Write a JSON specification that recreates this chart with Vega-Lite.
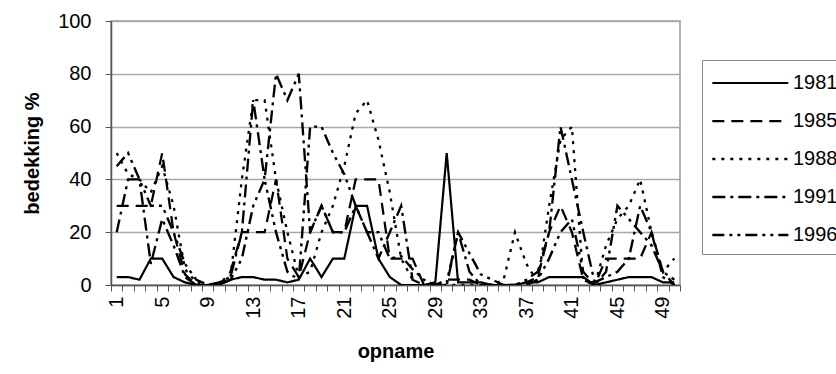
{
  "$schema": "https://vega.github.io/schema/vega-lite/v6.json",
  "width": 569,
  "height": 264,
  "autosize": {"type": "none"},
  "padding": {"left": 111, "top": 21, "right": 156, "bottom": 89},
  "background": "white",
  "config": {
    "font": "Liberation Sans",
    "view": {"stroke": "#9a9a9a", "strokeWidth": 1.5}
  },
  "data": {
    "values": [
      {"opname":1,"jaar":"1981","bedekking":3},{"opname":1,"jaar":"1985","bedekking":30},{"opname":1,"jaar":"1988","bedekking":50},{"opname":1,"jaar":"1991","bedekking":20},{"opname":1,"jaar":"1996","bedekking":45},
      {"opname":2,"jaar":"1981","bedekking":3},{"opname":2,"jaar":"1985","bedekking":30},{"opname":2,"jaar":"1988","bedekking":42},{"opname":2,"jaar":"1991","bedekking":40},{"opname":2,"jaar":"1996","bedekking":50},
      {"opname":3,"jaar":"1981","bedekking":2},{"opname":3,"jaar":"1985","bedekking":30},{"opname":3,"jaar":"1988","bedekking":40},{"opname":3,"jaar":"1991","bedekking":40},{"opname":3,"jaar":"1996","bedekking":40},
      {"opname":4,"jaar":"1981","bedekking":10},{"opname":4,"jaar":"1985","bedekking":30},{"opname":4,"jaar":"1988","bedekking":35},{"opname":4,"jaar":"1991","bedekking":8},{"opname":4,"jaar":"1996","bedekking":30},
      {"opname":5,"jaar":"1981","bedekking":10},{"opname":5,"jaar":"1985","bedekking":50},{"opname":5,"jaar":"1988","bedekking":45},{"opname":5,"jaar":"1991","bedekking":25},{"opname":5,"jaar":"1996","bedekking":30},
      {"opname":6,"jaar":"1981","bedekking":3},{"opname":6,"jaar":"1985","bedekking":20},{"opname":6,"jaar":"1988","bedekking":30},{"opname":6,"jaar":"1991","bedekking":15},{"opname":6,"jaar":"1996","bedekking":20},
      {"opname":7,"jaar":"1981","bedekking":1},{"opname":7,"jaar":"1985","bedekking":4},{"opname":7,"jaar":"1988","bedekking":6},{"opname":7,"jaar":"1991","bedekking":3},{"opname":7,"jaar":"1996","bedekking":8},
      {"opname":8,"jaar":"1981","bedekking":0},{"opname":8,"jaar":"1985","bedekking":0},{"opname":8,"jaar":"1988","bedekking":1},{"opname":8,"jaar":"1991","bedekking":0},{"opname":8,"jaar":"1996","bedekking":2},
      {"opname":9,"jaar":"1981","bedekking":0},{"opname":9,"jaar":"1985","bedekking":0},{"opname":9,"jaar":"1988","bedekking":0},{"opname":9,"jaar":"1991","bedekking":0},{"opname":9,"jaar":"1996","bedekking":0},
      {"opname":10,"jaar":"1981","bedekking":0},{"opname":10,"jaar":"1985","bedekking":0},{"opname":10,"jaar":"1988","bedekking":0},{"opname":10,"jaar":"1991","bedekking":1},{"opname":10,"jaar":"1996","bedekking":0},
      {"opname":11,"jaar":"1981","bedekking":2},{"opname":11,"jaar":"1985","bedekking":5},{"opname":11,"jaar":"1988","bedekking":3},{"opname":11,"jaar":"1991","bedekking":3},{"opname":11,"jaar":"1996","bedekking":2},
      {"opname":12,"jaar":"1981","bedekking":3},{"opname":12,"jaar":"1985","bedekking":20},{"opname":12,"jaar":"1988","bedekking":40},{"opname":12,"jaar":"1991","bedekking":20},{"opname":12,"jaar":"1996","bedekking":10},
      {"opname":13,"jaar":"1981","bedekking":3},{"opname":13,"jaar":"1985","bedekking":20},{"opname":13,"jaar":"1988","bedekking":70},{"opname":13,"jaar":"1991","bedekking":70},{"opname":13,"jaar":"1996","bedekking":30},
      {"opname":14,"jaar":"1981","bedekking":2},{"opname":14,"jaar":"1985","bedekking":20},{"opname":14,"jaar":"1988","bedekking":70},{"opname":14,"jaar":"1991","bedekking":40},{"opname":14,"jaar":"1996","bedekking":40},
      {"opname":15,"jaar":"1981","bedekking":2},{"opname":15,"jaar":"1985","bedekking":40},{"opname":15,"jaar":"1988","bedekking":40},{"opname":15,"jaar":"1991","bedekking":80},{"opname":15,"jaar":"1996","bedekking":20},
      {"opname":16,"jaar":"1981","bedekking":1},{"opname":16,"jaar":"1985","bedekking":10},{"opname":16,"jaar":"1988","bedekking":20},{"opname":16,"jaar":"1991","bedekking":70},{"opname":16,"jaar":"1996","bedekking":5},
      {"opname":17,"jaar":"1981","bedekking":2},{"opname":17,"jaar":"1985","bedekking":3},{"opname":17,"jaar":"1988","bedekking":3},{"opname":17,"jaar":"1991","bedekking":80},{"opname":17,"jaar":"1996","bedekking":2},
      {"opname":18,"jaar":"1981","bedekking":10},{"opname":18,"jaar":"1985","bedekking":20},{"opname":18,"jaar":"1988","bedekking":5},{"opname":18,"jaar":"1991","bedekking":20},{"opname":18,"jaar":"1996","bedekking":60},
      {"opname":19,"jaar":"1981","bedekking":3},{"opname":19,"jaar":"1985","bedekking":30},{"opname":19,"jaar":"1988","bedekking":20},{"opname":19,"jaar":"1991","bedekking":30},{"opname":19,"jaar":"1996","bedekking":60},
      {"opname":20,"jaar":"1981","bedekking":10},{"opname":20,"jaar":"1985","bedekking":20},{"opname":20,"jaar":"1988","bedekking":30},{"opname":20,"jaar":"1991","bedekking":20},{"opname":20,"jaar":"1996","bedekking":50},
      {"opname":21,"jaar":"1981","bedekking":10},{"opname":21,"jaar":"1985","bedekking":20},{"opname":21,"jaar":"1988","bedekking":45},{"opname":21,"jaar":"1991","bedekking":20},{"opname":21,"jaar":"1996","bedekking":42},
      {"opname":22,"jaar":"1981","bedekking":30},{"opname":22,"jaar":"1985","bedekking":40},{"opname":22,"jaar":"1988","bedekking":65},{"opname":22,"jaar":"1991","bedekking":30},{"opname":22,"jaar":"1996","bedekking":30},
      {"opname":23,"jaar":"1981","bedekking":30},{"opname":23,"jaar":"1985","bedekking":40},{"opname":23,"jaar":"1988","bedekking":70},{"opname":23,"jaar":"1991","bedekking":20},{"opname":23,"jaar":"1996","bedekking":20},
      {"opname":24,"jaar":"1981","bedekking":10},{"opname":24,"jaar":"1985","bedekking":40},{"opname":24,"jaar":"1988","bedekking":55},{"opname":24,"jaar":"1991","bedekking":10},{"opname":24,"jaar":"1996","bedekking":20},
      {"opname":25,"jaar":"1981","bedekking":3},{"opname":25,"jaar":"1985","bedekking":10},{"opname":25,"jaar":"1988","bedekking":35},{"opname":25,"jaar":"1991","bedekking":20},{"opname":25,"jaar":"1996","bedekking":10},
      {"opname":26,"jaar":"1981","bedekking":0},{"opname":26,"jaar":"1985","bedekking":10},{"opname":26,"jaar":"1988","bedekking":10},{"opname":26,"jaar":"1991","bedekking":30},{"opname":26,"jaar":"1996","bedekking":11},
      {"opname":27,"jaar":"1981","bedekking":0},{"opname":27,"jaar":"1985","bedekking":10},{"opname":27,"jaar":"1988","bedekking":2},{"opname":27,"jaar":"1991","bedekking":2},{"opname":27,"jaar":"1996","bedekking":6},
      {"opname":28,"jaar":"1981","bedekking":0},{"opname":28,"jaar":"1985","bedekking":0},{"opname":28,"jaar":"1988","bedekking":0},{"opname":28,"jaar":"1991","bedekking":0},{"opname":28,"jaar":"1996","bedekking":2},
      {"opname":29,"jaar":"1981","bedekking":1},{"opname":29,"jaar":"1985","bedekking":0},{"opname":29,"jaar":"1988","bedekking":0},{"opname":29,"jaar":"1991","bedekking":0},{"opname":29,"jaar":"1996","bedekking":0},
      {"opname":30,"jaar":"1981","bedekking":50},{"opname":30,"jaar":"1985","bedekking":2},{"opname":30,"jaar":"1988","bedekking":0},{"opname":30,"jaar":"1991","bedekking":0},{"opname":30,"jaar":"1996","bedekking":1},
      {"opname":31,"jaar":"1981","bedekking":1},{"opname":31,"jaar":"1985","bedekking":2},{"opname":31,"jaar":"1988","bedekking":0},{"opname":31,"jaar":"1991","bedekking":20},{"opname":31,"jaar":"1996","bedekking":20},
      {"opname":32,"jaar":"1981","bedekking":1},{"opname":32,"jaar":"1985","bedekking":2},{"opname":32,"jaar":"1988","bedekking":0},{"opname":32,"jaar":"1991","bedekking":5},{"opname":32,"jaar":"1996","bedekking":12},
      {"opname":33,"jaar":"1981","bedekking":1},{"opname":33,"jaar":"1985","bedekking":0},{"opname":33,"jaar":"1988","bedekking":0},{"opname":33,"jaar":"1991","bedekking":0},{"opname":33,"jaar":"1996","bedekking":4},
      {"opname":34,"jaar":"1981","bedekking":0},{"opname":34,"jaar":"1985","bedekking":0},{"opname":34,"jaar":"1988","bedekking":0},{"opname":34,"jaar":"1991","bedekking":0},{"opname":34,"jaar":"1996","bedekking":2},
      {"opname":35,"jaar":"1981","bedekking":0},{"opname":35,"jaar":"1985","bedekking":0},{"opname":35,"jaar":"1988","bedekking":2},{"opname":35,"jaar":"1991","bedekking":0},{"opname":35,"jaar":"1996","bedekking":0},
      {"opname":36,"jaar":"1981","bedekking":0},{"opname":36,"jaar":"1985","bedekking":0},{"opname":36,"jaar":"1988","bedekking":20},{"opname":36,"jaar":"1991","bedekking":0},{"opname":36,"jaar":"1996","bedekking":0},
      {"opname":37,"jaar":"1981","bedekking":1},{"opname":37,"jaar":"1985","bedekking":1},{"opname":37,"jaar":"1988","bedekking":8},{"opname":37,"jaar":"1991","bedekking":2},{"opname":37,"jaar":"1996","bedekking":0},
      {"opname":38,"jaar":"1981","bedekking":1},{"opname":38,"jaar":"1985","bedekking":3},{"opname":38,"jaar":"1988","bedekking":1},{"opname":38,"jaar":"1991","bedekking":5},{"opname":38,"jaar":"1996","bedekking":2},
      {"opname":39,"jaar":"1981","bedekking":3},{"opname":39,"jaar":"1985","bedekking":20},{"opname":39,"jaar":"1988","bedekking":30},{"opname":39,"jaar":"1991","bedekking":20},{"opname":39,"jaar":"1996","bedekking":10},
      {"opname":40,"jaar":"1981","bedekking":3},{"opname":40,"jaar":"1985","bedekking":30},{"opname":40,"jaar":"1988","bedekking":55},{"opname":40,"jaar":"1991","bedekking":60},{"opname":40,"jaar":"1996","bedekking":20},
      {"opname":41,"jaar":"1981","bedekking":3},{"opname":41,"jaar":"1985","bedekking":20},{"opname":41,"jaar":"1988","bedekking":60},{"opname":41,"jaar":"1991","bedekking":40},{"opname":41,"jaar":"1996","bedekking":25},
      {"opname":42,"jaar":"1981","bedekking":3},{"opname":42,"jaar":"1985","bedekking":2},{"opname":42,"jaar":"1988","bedekking":2},{"opname":42,"jaar":"1991","bedekking":20},{"opname":42,"jaar":"1996","bedekking":5},
      {"opname":43,"jaar":"1981","bedekking":0},{"opname":43,"jaar":"1985","bedekking":0},{"opname":43,"jaar":"1988","bedekking":0},{"opname":43,"jaar":"1991","bedekking":1},{"opname":43,"jaar":"1996","bedekking":0},
      {"opname":44,"jaar":"1981","bedekking":1},{"opname":44,"jaar":"1985","bedekking":10},{"opname":44,"jaar":"1988","bedekking":15},{"opname":44,"jaar":"1991","bedekking":3},{"opname":44,"jaar":"1996","bedekking":5},
      {"opname":45,"jaar":"1981","bedekking":2},{"opname":45,"jaar":"1985","bedekking":10},{"opname":45,"jaar":"1988","bedekking":25},{"opname":45,"jaar":"1991","bedekking":5},{"opname":45,"jaar":"1996","bedekking":30},
      {"opname":46,"jaar":"1981","bedekking":3},{"opname":46,"jaar":"1985","bedekking":10},{"opname":46,"jaar":"1988","bedekking":30},{"opname":46,"jaar":"1991","bedekking":10},{"opname":46,"jaar":"1996","bedekking":25},
      {"opname":47,"jaar":"1981","bedekking":3},{"opname":47,"jaar":"1985","bedekking":10},{"opname":47,"jaar":"1988","bedekking":40},{"opname":47,"jaar":"1991","bedekking":30},{"opname":47,"jaar":"1996","bedekking":20},
      {"opname":48,"jaar":"1981","bedekking":3},{"opname":48,"jaar":"1985","bedekking":20},{"opname":48,"jaar":"1988","bedekking":20},{"opname":48,"jaar":"1991","bedekking":20},{"opname":48,"jaar":"1996","bedekking":15},
      {"opname":49,"jaar":"1981","bedekking":1},{"opname":49,"jaar":"1985","bedekking":5},{"opname":49,"jaar":"1988","bedekking":5},{"opname":49,"jaar":"1991","bedekking":3},{"opname":49,"jaar":"1996","bedekking":5},
      {"opname":50,"jaar":"1981","bedekking":1},{"opname":50,"jaar":"1985","bedekking":0},{"opname":50,"jaar":"1988","bedekking":10},{"opname":50,"jaar":"1991","bedekking":0},{"opname":50,"jaar":"1996","bedekking":2}
    ]
  },
  "layer": [
    {
      "mark": {"type": "line", "color": "black", "strokeCap": "butt", "clip": true},
      "encoding": {
        "x": {
          "field": "opname",
          "type": "quantitative",
          "scale": {"domain": [0.5, 50.5], "nice": false, "zero": false},
          "axis": {
            "orient": "bottom",
            "values": [1, 5, 9, 13, 17, 21, 25, 29, 33, 37, 41, 45, 49],
            "ticks": false,
            "grid": false,
            "domainColor": "#555",
            "domainWidth": 1.5,
            "labelAngle": 270,
            "labelFontSize": 20,
            "labelColor": "black",
            "labelPadding": 11,
            "title": "opname",
            "titleFontSize": 20,
            "titleFontWeight": "bold",
            "titleColor": "black",
            "titlePadding": 23
          }
        },
        "y": {
          "field": "bedekking",
          "type": "quantitative",
          "scale": {"domain": [0, 100], "nice": false},
          "axis": {
            "values": [0, 20, 40, 60, 80, 100],
            "grid": true,
            "gridColor": "#a8a8a8",
            "gridWidth": 1.5,
            "domainColor": "#555",
            "domainWidth": 1.5,
            "tickColor": "#555",
            "tickSize": 6,
            "labelFontSize": 20,
            "labelColor": "black",
            "labelPadding": 14,
            "title": "bedekking %",
            "titleFontSize": 20,
            "titleFontWeight": "bold",
            "titleColor": "black",
            "titlePadding": 15
          }
        },
        "strokeDash": {
          "field": "jaar",
          "type": "nominal",
          "scale": {
            "domain": ["1981", "1985", "1988", "1991", "1996"],
            "range": [[1, 0], [12, 7], [3, 6], [13, 5, 3, 5], [12, 5, 3, 5, 3, 5]]
          },
          "legend": {
            "orient": "none",
            "legendX": 591,
            "legendY": 39,
            "title": null,
            "strokeColor": "#8a8a8a",
            "padding": 9,
            "symbolType": "M-1,0H5",
            "symbolSize": 642,
            "symbolStrokeColor": "black",
            "labelFontSize": 20,
            "labelColor": "black",
            "labelOffset": 54,
            "rowPadding": 14
          }
        },
        "strokeWidth": {
          "field": "jaar",
          "type": "nominal",
          "scale": {
            "domain": ["1981", "1985", "1988", "1991", "1996"],
            "range": [2.2, 2.4, 2.6, 3.2, 1.4]
          },
          "legend": null
        }
      }
    },
    {
      "mark": {"type": "point", "opacity": 0},
      "encoding": {
        "x": {
          "field": "opname",
          "type": "quantitative",
          "axis": {
            "orient": "bottom",
            "values": [0.5, 1.5, 2.5, 3.5, 4.5, 5.5, 6.5, 7.5, 8.5, 9.5, 10.5, 11.5, 12.5, 13.5, 14.5, 15.5, 16.5, 17.5, 18.5, 19.5, 20.5, 21.5, 22.5, 23.5, 24.5, 25.5, 26.5, 27.5, 28.5, 29.5, 30.5, 31.5, 32.5, 33.5, 34.5, 35.5, 36.5, 37.5, 38.5, 39.5, 40.5, 41.5, 42.5, 43.5, 44.5, 45.5, 46.5, 47.5, 48.5, 49.5, 50.5],
            "labels": false,
            "domain": false,
            "grid": false,
            "tickColor": "#555",
            "tickSize": 6,
            "title": null
          }
        }
      }
    }
  ],
  "resolve": {"axis": {"x": "independent"}}
}
